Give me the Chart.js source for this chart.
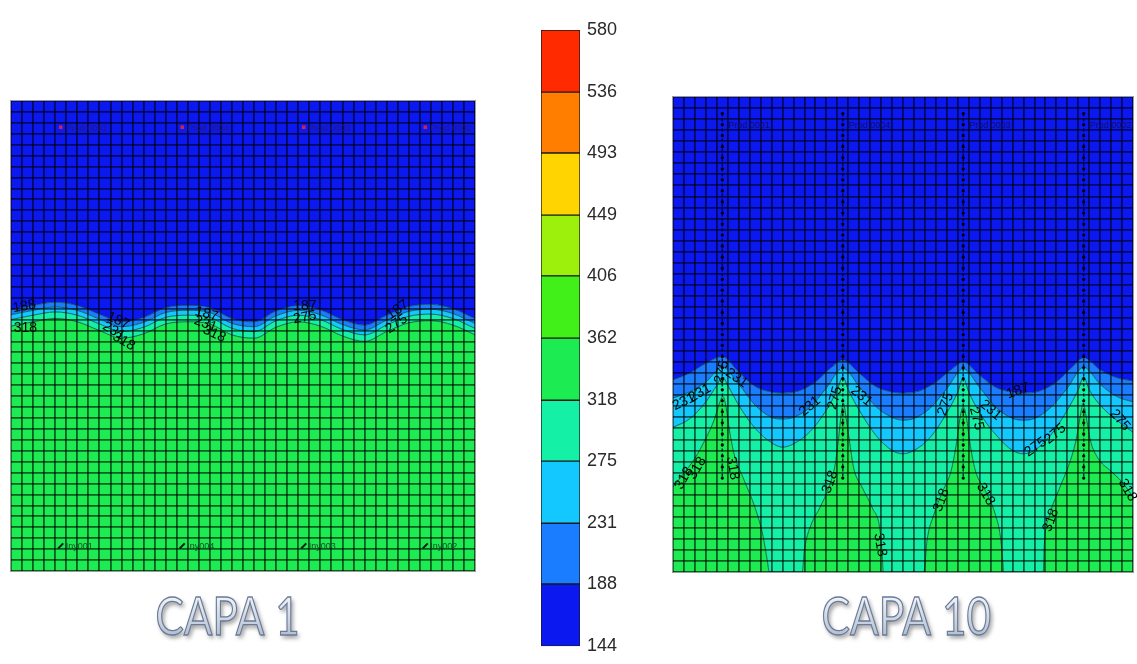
<!DOCTYPE html>
<html>
<head>
<meta charset="utf-8">
<script src="https://cdn.jsdelivr.net/npm/chart.js@4.4.1/dist/chart.umd.min.js"></script>
<style>
  html, body { margin: 0; padding: 0; background: #fff; }
  body { width: 1137px; height: 664px; position: relative; overflow: hidden; }
  canvas { position: absolute; top: 0; }
  #capa1 { left: 0; }
  #escala { left: 521px; }
  #capa10 { left: 660px; }
</style>
</head>
<body>
<canvas id="capa1" width="500" height="664"></canvas>
<canvas id="escala" width="120" height="664"></canvas>
<canvas id="capa10" width="477" height="664"></canvas>
<script>
// ---- contour levels and their band colours (low to high) ----
const levels = [144, 188, 231, 275, 318, 362, 406, 449, 493, 536, 580];
const bandColors = ['#0b18f0', '#1a7cff', '#12c8ff', '#14f0a6', '#1ceb52',
                    '#40f018', '#9cf00c', '#ffd400', '#ff7e00', '#ff2a00'];

// ---- simulation grid (cells) ----
const nCols = 42;
const nRows = 43;

// ---- wells ----
const wellX = [4.5, 15.5, 26.5, 37.5];
const prodNames = ['Prod 0001', 'Prod 0004', 'Prod 0003', 'Prod 0002'];
const injNames = ['Iny001', 'Iny004', 'Iny003', 'Iny002'];
const prodRow = 40.6;
const injRow = 2.3;
const perforatedCells = [41.5, 40.5, 39.5, 38.5, 37.5, 36.5, 35.5, 34.5, 33.5, 32.5, 31.5,
                         30.5, 29.5, 28.5, 27.5, 26.5, 25.5, 24.5, 23.5, 22.5, 21.5, 20.5,
                         19.5, 18.5, 17.5, 16.5, 15.5, 14.5, 13.5, 12.5, 11.5, 10.5, 9.5, 8.5];

// ---- CAPA 1: contour boundaries (height in cells), every 2 columns ----
const capa1X    = [0, 2, 4, 6, 8, 10, 12, 14, 16, 18, 20, 22, 24, 26, 28, 30, 32, 34, 36, 38, 40, 42];
const capa1B188 = [23.9, 24.3, 24.6, 24.3, 23.5, 22.8, 23.2, 24.1, 24.3, 24.1, 23.1, 22.8, 23.8, 24.3, 23.9, 23.0, 22.5, 23.4, 24.2, 24.4, 24.0, 23.1];
const capa1B231 = [23.45, 23.85, 24.15, 23.85, 23.05, 22.35, 22.75, 23.65, 23.85, 23.65, 22.65, 22.35, 23.35, 23.85, 23.45, 22.55, 22.05, 22.95, 23.75, 23.95, 23.55, 22.65];
const capa1B275 = [23.0, 23.4, 23.7, 23.4, 22.6, 21.9, 22.3, 23.2, 23.4, 23.2, 22.2, 21.9, 22.9, 23.4, 23.0, 22.1, 21.6, 22.5, 23.3, 23.5, 23.1, 22.2];
const capa1B318 = [22.4, 22.8, 23.1, 22.8, 22.0, 21.3, 21.7, 22.6, 22.8, 22.6, 21.6, 21.3, 22.3, 22.8, 22.4, 21.5, 21.0, 21.9, 22.7, 22.9, 22.5, 21.6];

// ---- CAPA 10: contour boundaries as [column, height] ----
const capa10B188 = [[0,17.4],[1.5,18.0],[3,18.9],[4.5,19.5],[6,18.1],[7.5,16.8],[9,16.3],[10,16.2],[11.5,16.4],[13,17.2],[14.5,18.55],[15.5,19.2],[17,18.0],[18.5,16.8],[20,16.3],[21,16.2],[22.5,16.4],[24,17.2],[25.5,18.4],[26.5,19.0],[28,17.8],[29.5,16.7],[31,16.3],[32,16.2],[33.5,16.4],[35,17.2],[36.5,18.6],[37.5,19.4],[39,18.3],[40.5,17.6],[42,17.3]];
const capa10B231 = [[0,15.75],[1.5,16.3],[3,17.2],[4.5,18.55],[6,17.0],[7.5,15.1],[9,14.0],[10,13.85],[11,14.0],[12.5,14.9],[14,16.65],[15.5,18.45],[17,16.8],[18.5,15.0],[20,14.0],[21,13.75],[22,13.9],[23.5,14.85],[25,16.6],[26.5,18.4],[28,16.7],[29.5,14.9],[31,13.9],[32,13.75],[33,13.9],[34.5,14.9],[36,16.65],[37.5,18.55],[39,17.0],[40.5,15.9],[42,15.4]];
const capa10B275 = [[0,13.1],[1.5,13.85],[3,15.4],[4,16.9],[4.5,17.65],[5,16.9],[6,15.1],[7.5,13.0],[9,11.7],[10,11.3],[11,11.6],[12.5,12.7],[14,14.65],[15,16.5],[15.5,17.65],[16,16.5],[17,14.65],[18.5,12.4],[20,11.0],[21,10.7],[22,11.0],[23.5,12.2],[25,14.4],[26,16.3],[26.5,17.55],[27,16.3],[28,14.4],[29.5,12.4],[31,11.0],[32,10.7],[33,11.0],[34.5,12.4],[36,14.65],[37,16.5],[37.5,17.65],[38,16.5],[39,15.1],[40.5,13.75],[42,12.65]];
const capa10B318 = [[0,7.7],[1,8.95],[2,10.3],[3,12.1],[3.75,13.75],[4.25,15.3],[4.55,15.9],[4.85,14.9],[5.15,12.85],[5.6,10.6],[6.5,8.3],[7.5,5.8],[8.2,3.35],[8.6,1.1],[8.8,0],
  [11.8,0],[12,2.0],[12.6,4.25],[13.4,5.8],[14.2,7.6],[14.8,9.7],[15.1,11.95],[15.35,14.2],[15.55,15.3],[15.8,14.0],[16.1,11.95],[16.5,9.4],[17.3,7.6],[18.2,5.8],[18.9,3.8],[19.1,1.55],[19.2,0],
  [22.9,0],[23.2,2.9],[23.8,5.15],[24.6,7.25],[25.4,9.2],[25.9,11.75],[26.25,14.2],[26.5,14.95],[26.8,13.95],[27.1,11.75],[27.6,9.2],[28.5,7.4],[29.4,5.3],[29.9,3.15],[30.1,1.1],[30.2,0],
  [33.8,0],[33.9,2.45],[34.4,5.15],[35.3,7.6],[36.2,9.85],[36.8,11.95],[37.2,14.2],[37.45,15.3],[37.7,14.2],[38.1,11.95],[38.8,10.3],[39.9,9.2],[41,8.15],[42,6.8]];

// ---- contour value labels: [text, column, height, angle in degrees] ----
const capa1Labels = [
  ['188', 1.2, 24.2, -10], ['318', 1.3, 22.2, 0],
  ['187', 9.7, 22.9, 25], ['231', 9.3, 21.95, 30], ['318', 10.2, 21.0, 30],
  ['187', 17.7, 23.5, 15], ['231', 17.6, 22.6, 20], ['318', 18.4, 21.7, 25],
  ['187', 26.6, 24.2, 0], ['275', 26.6, 23.2, -10],
  ['187', 35.0, 23.9, -35], ['275', 34.9, 22.6, -35]
];
const capa10Labels = [
  ['231', 1.0, 15.4, -25], ['231', 2.45, 16.2, -30], ['231', 5.8, 17.55, 35], ['275', 4.45, 18.1, -75],
  ['318', 1.0, 8.5, -60], ['318', 2.2, 9.4, -60], ['318', 5.45, 9.4, 80],
  ['231', 12.5, 15.0, -40], ['275', 14.8, 15.75, -75], ['231', 17.2, 15.9, 40],
  ['318', 14.35, 8.15, -70], ['318', 18.9, 2.45, 80],
  ['275', 24.9, 15.2, -70], ['275', 27.7, 13.9, 75], ['231', 29.0, 14.65, 40],
  ['318', 24.5, 6.5, -70], ['318', 28.55, 7.05, 60],
  ['187', 31.5, 16.4, -20], ['275', 33.1, 11.3, -35], ['275', 34.9, 12.5, -40],
  ['275', 40.8, 13.75, 50], ['318', 34.5, 4.7, -70], ['318', 41.5, 7.4, 60]
];

// ---------------------------------------------------------------
const fromXY = (xs, ys) => xs.map((x, i) => ({ x, y: ys[i] }));
const fromPairs = arr => arr.map(p => ({ x: p[0], y: p[1] }));

function bandDatasets(b318, b275, b231, b188) {
  const base = {
    pointRadius: 0, pointHitRadius: 0, borderWidth: 1,
    borderColor: 'rgba(12,60,48,0.75)', cubicInterpolationMode: 'monotone'
  };
  return [
    { ...base, label: '318-362', data: b318, fill: 'start', backgroundColor: bandColors[4] },
    { ...base, label: '275-318', data: b275, fill: '-1', backgroundColor: bandColors[3] },
    { ...base, label: '231-275', data: b231, fill: '-1', backgroundColor: bandColors[2] },
    { ...base, label: '188-231', data: b188, fill: '-1', backgroundColor: bandColors[1] },
    { ...base, label: '144-188', data: b188, fill: 'end', backgroundColor: bandColors[0], borderWidth: 0 }
  ];
}

// frame around the grid
const frame = {
  id: 'frame',
  afterDraw(chart) {
    const { ctx, chartArea: a } = chart;
    ctx.save();
    ctx.strokeStyle = '#9a9a9a';
    ctx.lineWidth = 1;
    ctx.strokeRect(a.left - 0.5, a.top - 0.5, a.right - a.left + 1, a.bottom - a.top + 1);
    ctx.restore();
  }
};

// contour value labels
const contourLabels = {
  id: 'contourLabels',
  afterDraw(chart, args, opts) {
    if (!opts.items) return;
    const { ctx, scales: { x, y } } = chart;
    ctx.save();
    ctx.font = '14px "Liberation Sans", Arial, sans-serif';
    ctx.fillStyle = '#050505';
    ctx.textAlign = 'center';
    ctx.textBaseline = 'middle';
    opts.items.forEach(([t, cx, cy, ang]) => {
      ctx.save();
      ctx.translate(x.getPixelForValue(cx), y.getPixelForValue(cy));
      ctx.rotate(ang * Math.PI / 180);
      ctx.fillText(t, 0, 0);
      ctx.restore();
    });
    ctx.restore();
  }
};

// well names
const wellLabels = {
  id: 'wellLabels',
  afterDraw(chart, args, opts) {
    if (!opts.groups) return;
    const { ctx, scales: { x, y } } = chart;
    ctx.save();
    ctx.font = '9px "Liberation Sans", Arial, sans-serif';
    ctx.textBaseline = 'middle';
    ctx.textAlign = 'left';
    opts.groups.forEach(g => {
      ctx.fillStyle = g.color;
      g.names.forEach((n, i) => {
        ctx.fillText(n, x.getPixelForValue(wellX[i]) + g.dx, y.getPixelForValue(g.row) + g.dy);
      });
    });
    ctx.restore();
  }
};

// layer title under each map
const capaTitle = {
  id: 'capaTitle',
  afterDraw(chart, args, o) {
    if (!o.text) return;
    const ctx = chart.ctx;
    ctx.save();
    ctx.font = '400 60px Lato, "Open Sans", sans-serif';
    ctx.textBaseline = 'alphabetic';
    ctx.textAlign = 'left';
    const m = ctx.measureText(o.text);
    const w = m.actualBoundingBoxLeft + m.actualBoundingBoxRight;
    const h = m.actualBoundingBoxAscent;
    const sx = o.w / w, sy = o.h / h;
    ctx.translate(o.x, o.y + o.h);
    ctx.scale(sx, sy);
    const g = ctx.createLinearGradient(0, -h, 0, 0);
    g.addColorStop(0, '#eef2f7');
    g.addColorStop(1, '#b4c0d2');
    ctx.shadowColor = 'rgba(40,40,40,0.5)';
    ctx.shadowBlur = 4;
    ctx.shadowOffsetX = 2;
    ctx.shadowOffsetY = 3;
    ctx.fillStyle = g;
    ctx.fillText(o.text, m.actualBoundingBoxLeft, 0);
    ctx.shadowColor = 'transparent';
    ctx.strokeStyle = '#6a7b98';
    ctx.lineWidth = 1.1 / sx;
    ctx.strokeText(o.text, m.actualBoundingBoxLeft, 0);
    ctx.restore();
  }
};

const gridColor = 'rgba(0,0,0,0.6)';
function cellAxis(max, horizontal) {
  return {
    type: 'linear', min: 0, max,
    afterFit(s) { if (horizontal) s.height = 0; else s.width = 0; },
    ticks: { display: false, stepSize: 1, maxTicksLimit: 200 },
    grid: { color: gridColor, lineWidth: 1.8, drawTicks: false, z: 1 },
    border: { display: false }
  };
}

function makeMap(id, padding, datasets, extra) {
  return new Chart(document.getElementById(id), {
    type: 'line',
    data: { datasets },
    options: {
      responsive: false, animation: false, events: [],
      layout: { padding },
      scales: { x: cellAxis(nCols, true), y: cellAxis(nRows, false) },
      plugins: Object.assign({ legend: { display: false }, tooltip: { enabled: false } }, extra)
    },
    plugins: [frame, contourLabels, wellLabels, capaTitle]
  });
}

// ---- CAPA 1 ----
const capa1Sets = bandDatasets(
  fromXY(capa1X, capa1B318), fromXY(capa1X, capa1B275),
  fromXY(capa1X, capa1B231), fromXY(capa1X, capa1B188)
);
capa1Sets.push({
  label: 'productores', order: -1, data: wellX.map(x => ({ x, y: prodRow })), showLine: false,
  pointStyle: 'rect', pointRadius: 2.5, pointBackgroundColor: '#d8203c', pointBorderWidth: 0
});
capa1Sets.push({
  label: 'inyectores', order: -1, data: wellX.map(x => ({ x, y: injRow })), showLine: false,
  pointStyle: 'line', pointRotation: -45, pointRadius: 3.5, pointBorderWidth: 2, pointBorderColor: '#111'
});
makeMap('capa1', { left: 11, top: 101, right: 25, bottom: 93 }, capa1Sets, {
  contourLabels: { items: capa1Labels },
  wellLabels: { groups: [
    { names: prodNames, row: prodRow, dx: 5, dy: 1, color: '#2a1a66' },
    { names: injNames, row: injRow, dx: 5, dy: 1, color: '#1d4a24' }
  ] },
  capaTitle: { text: 'CAPA 1', x: 157, y: 598, w: 140, h: 37 }
});

// ---- CAPA 10 ----
const capa10Sets = bandDatasets(
  fromPairs(capa10B318), fromPairs(capa10B275),
  fromPairs(capa10B231), fromPairs(capa10B188)
);
wellX.forEach((wx, i) => {
  capa10Sets.push({
    label: prodNames[i], order: -1, data: perforatedCells.map(h => ({ x: wx, y: h })),
    showLine: true, fill: false, borderColor: 'rgba(0,0,30,0.8)', borderWidth: 1.5,
    borderDash: [3, 2], pointRadius: 1.6, pointBackgroundColor: '#000', pointBorderWidth: 0
  });
});
makeMap('capa10', { left: 13, top: 97, right: 2, bottom: 92 }, capa10Sets, {
  contourLabels: { items: capa10Labels },
  wellLabels: { groups: [
    { names: prodNames, row: 40.45, dx: 6, dy: 0, color: '#10105a' }
  ] },
  capaTitle: { text: 'CAPA 10', x: 163, y: 598, w: 167, h: 37 }
});

// ---- colour scale ----
new Chart(document.getElementById('escala'), {
  type: 'bar',
  data: {
    labels: ['escala'],
    datasets: bandColors.map((c, i) => ({
      label: levels[i] + '-' + levels[i + 1],
      data: [[levels[i], levels[i + 1]]],
      backgroundColor: c, borderColor: '#1a1a1a', borderWidth: 1, borderSkipped: false,
      grouped: false, barPercentage: 1, categoryPercentage: 1
    }))
  },
  options: {
    responsive: false, animation: false, events: [],
    layout: { padding: { left: 20, right: 1, top: 30, bottom: 8 } },
    scales: {
      x: { display: false },
      y: {
        position: 'right', min: levels[0], max: levels[levels.length - 1],
        afterFit(s) { s.width = 60; },
        afterBuildTicks(s) { s.ticks = levels.map(v => ({ value: v })); },
        ticks: { padding: 7, color: '#2a2a2a', font: { size: 18, family: '"Liberation Sans", Arial, sans-serif' },
                 callback: v => String(v) },
        grid: { display: false, drawTicks: false },
        border: { display: false }
      }
    },
    plugins: { legend: { display: false }, tooltip: { enabled: false } }
  }
});
</script>
</body>
</html>
